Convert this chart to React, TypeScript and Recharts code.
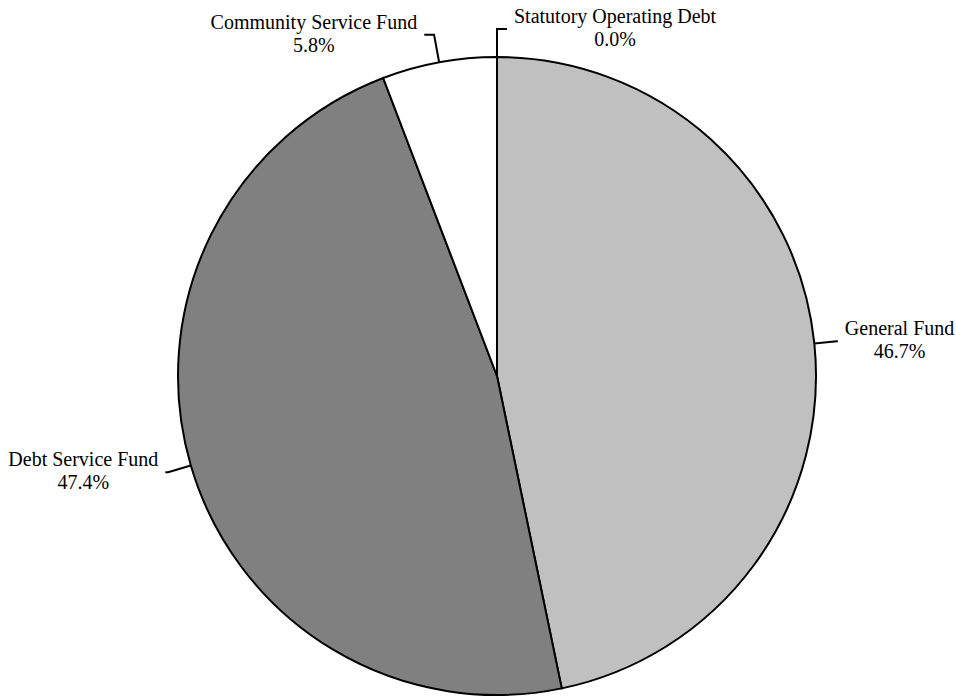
import React from "react";
import { PieChart, Pie, Cell } from "recharts";

const categories = ["General Fund", "Debt Service Fund", "Community Service Fund", "Statutory Operating Debt"];
const shares = [46.7, 47.4, 5.8, 0.0];
const fills = ["#C0C0C0", "#808080", "#FFFFFF", "#000000"];

const chartData = categories.map((name, i) => ({ name, value: shares[i] }));

const FONT_SIZE = 20;
const FONT = `${FONT_SIZE}px "Liberation Serif", "Times New Roman", serif`;

let ctx: CanvasRenderingContext2D | null = null;
function measure(text: string) {
  if (!ctx) ctx = document.createElement("canvas").getContext("2d");
  if (!ctx) return text.length * FONT_SIZE * 0.45;
  ctx.font = FONT;
  return ctx.measureText(text).width;
}

function renderLabel(props: any) {
  const { cx, cy, midAngle, outerRadius, name, value } = props;
  const rad = (-midAngle * Math.PI) / 180;
  const cos = Math.cos(rad);
  const sin = Math.sin(rad);
  // leader: radial stub, then a short horizontal elbow (longer for top labels)
  const ext = 22 + 6 * Math.abs(sin);
  const x0 = cx + outerRadius * cos;
  const y0 = cy + outerRadius * sin;
  const x1 = cx + (outerRadius + ext) * cos;
  const y1 = cy + (outerRadius + ext) * sin;
  const dir = cos >= -1e-6 ? 1 : -1;
  const x2 = x1 + dir * 10 * Math.abs(sin);
  const pct = `${Number(value).toFixed(1)}%`;
  const w = Math.max(measure(name), measure(pct));
  const tx = x2 + dir * (7 + w / 2);

  return (
    <g>
      <polyline
        points={`${x0},${y0} ${x1},${y1} ${x2},${y1}`}
        fill="none"
        stroke="#000"
        strokeWidth={2}
      />
      <text
        x={tx}
        y={y1 - 6}
        textAnchor="middle"
        fill="#000"
        style={{ font: FONT }}
      >
        <tspan x={tx} dy={0}>{name}</tspan>
        <tspan x={tx} dy={23}>{pct}</tspan>
      </text>
    </g>
  );
}

export default function App() {
  return (
    <div style={{ position: "absolute", left: 0, top: 0, width: 956, height: 698, background: "#fff" }}>
      <PieChart width={956} height={698} margin={{ top: 0, right: 0, bottom: 0, left: 0 }}>
        <Pie
          data={chartData}
          dataKey="value"
          nameKey="name"
          cx={497}
          cy={376}
          outerRadius={319}
          startAngle={90}
          endAngle={-270}
          stroke="#000"
          strokeWidth={2}
          label={renderLabel}
          labelLine={false}
          isAnimationActive={false}
        >
          {chartData.map((_, i) => (
            <Cell key={`cell-${i}`} fill={fills[i]} />
          ))}
        </Pie>
      </PieChart>
    </div>
  );
}
